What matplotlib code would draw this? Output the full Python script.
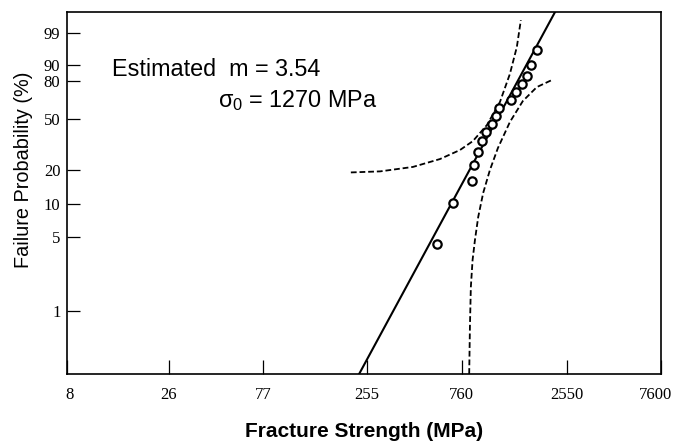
import numpy as np
import matplotlib
matplotlib.use("Agg")
import matplotlib.pyplot as plt
from matplotlib.transforms import ScaledTranslation

# ---- data ----
strength = [572, 690, 859, 879, 914, 957, 1007, 1082, 1125, 1169,
            1337, 1417, 1528, 1626, 1684, 1818]
failure_pct = [4.3, 10.2, 16.3, 22.4, 28.5, 34.9, 40.8, 46.0, 52.3, 58.5,
               65.2, 71.6, 77.5, 83.6, 89.7, 95.8]

m_est = 3.54
sigma0_est = 1270

upper_x = [212, 297, 434, 592, 746, 866, 1018, 1183, 1327, 1438, 1506]
upper_p = [19.2, 19.6, 21.4, 24.9, 29.5, 34.7, 45.5, 63.6, 84.7, 96.7, 99.79]

lower_x = [830, 837, 846, 863, 887, 921, 975, 1054, 1156, 1327, 1541, 1811, 2153]
lower_p = [0.248, 0.70, 1.68, 3.03, 4.68, 7.66, 12.65, 20.14, 30.63, 47.75,
           64.39, 75.49, 80.64]

x_ticks = [8, 26, 77, 255, 760, 2550, 7600]
x_tick_labels = ["8", "26", "77", "255", "760", "2550", "7600"]
y_ticks = [1, 5, 10, 20, 50, 80, 90, 99]
y_tick_labels = ["1", "5", "10", "20", "50", "80", "90", "99"]


def fwd(p):
    p = np.asarray(p, dtype=float)
    with np.errstate(all="ignore"):
        q = np.clip(p / 100.0, 1e-12, 1 - 1e-12)
        return np.log(-np.log(1 - q))


def inv(w):
    w = np.asarray(w, dtype=float)
    with np.errstate(all="ignore"):
        return 100.0 * (1 - np.exp(-np.exp(w)))


plt.rcParams["mathtext.fontset"] = "custom"
plt.rcParams["mathtext.rm"] = "Liberation Sans"
plt.rcParams["mathtext.it"] = "Liberation Sans"

fig = plt.figure(figsize=(6.74, 4.47), dpi=100)
ax = fig.add_axes([0.099, 0.1633, 0.882, 0.8099])

ax.set_xscale("log")
ax.set_yscale("function", functions=(fwd, inv))
ax.set_xlim(8, 7600)
ax.set_ylim(float(inv(-6.0)), float(inv(2.0)))

# fitted Weibull line
xs = np.logspace(np.log10(8), np.log10(7600), 400)
ps = inv(m_est * np.log(xs / sigma0_est))
ax.plot(xs, ps, color="black", lw=1.5)

# confidence bounds
ax.plot(upper_x, upper_p, color="black", lw=1.3, ls=(0, (3.2, 1.6)))
ax.plot(lower_x, lower_p, color="black", lw=1.3, ls=(0, (3.2, 1.6)))

# data points
ax.plot(strength, failure_pct, ls="none", marker="o", ms=6,
        mfc="white", mec="black", mew=1.6)

serif = ["Liberation Serif", "DejaVu Serif"]
ax.set_xticks(x_ticks)
ax.set_xticklabels(x_tick_labels, family=serif, fontsize=12)
ax.xaxis.set_minor_locator(matplotlib.ticker.NullLocator())
ax.set_yticks(y_ticks)
ax.set_yticklabels(y_tick_labels, family=serif, fontsize=12)
ax.yaxis.set_minor_locator(matplotlib.ticker.NullLocator())
ax.tick_params(axis="x", direction="in", length=10, width=0.9, pad=9)
ax.tick_params(axis="y", direction="in", length=9, width=0.9, pad=4.5)

# nudge the edge labels like the reference
xl = ax.get_xticklabels()
xl[-1].set_transform(xl[-1].get_transform() +
                     ScaledTranslation(-6 / 100, 0, fig.dpi_scale_trans))
xl[0].set_transform(xl[0].get_transform() +
                    ScaledTranslation(3 / 100, 0, fig.dpi_scale_trans))

for s in ax.spines.values():
    s.set_linewidth(1.2)

sans = ["Liberation Sans", "DejaVu Sans"]
ax.set_xlabel("Fracture Strength (MPa)", family=sans, fontsize=15,
              fontweight="bold", labelpad=14)
ax.set_ylabel("Failure Probability (%)", family=sans, fontsize=14.3)
ax.yaxis.set_label_coords(-0.056, 0.5635)

fig.text(112 / 674, 1 - 69 / 447, "Estimated  m = 3.54", family=sans,
         fontsize=16.8, va="center", ha="left")
fig.text(218 / 674, 1 - 101 / 447, r"$\sigma_0$ = 1270 MPa", family=sans,
         fontsize=16.8, va="center", ha="left")

fig.savefig("out.png", dpi=100)
